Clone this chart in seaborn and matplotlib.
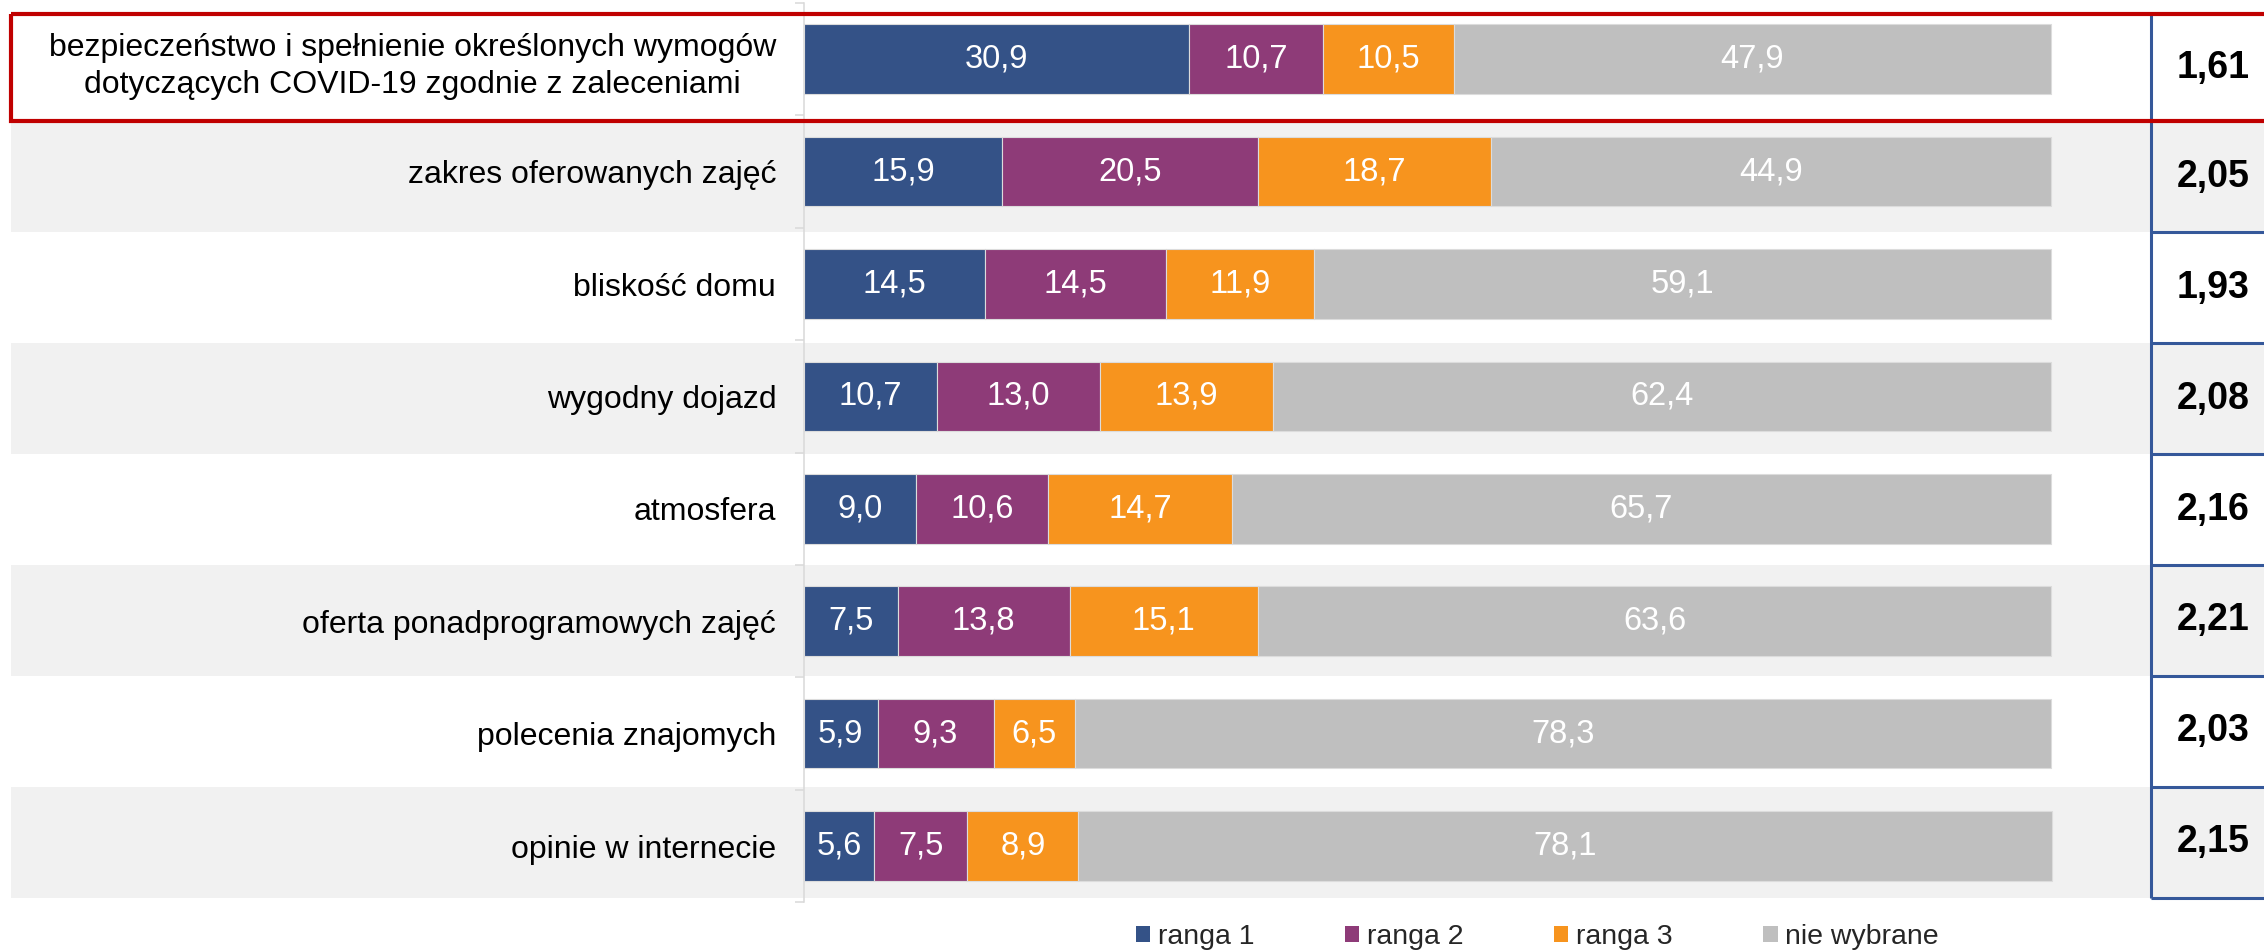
import matplotlib
matplotlib.use("Agg")
import matplotlib.pyplot as plt
import matplotlib.transforms as mtransforms
from matplotlib.patches import Rectangle, Patch
import seaborn as sns
import pandas as pd
import numpy as np

# ---------------- data ----------------
categories = [
    "bezpieczeństwo i spełnienie określonych wymogów\ndotyczących COVID-19 zgodnie z zaleceniami",
    "zakres oferowanych zajęć",
    "bliskość domu",
    "wygodny dojazd",
    "atmosfera",
    "oferta ponadprogramowych zajęć",
    "polecenia znajomych",
    "opinie w internecie",
]
ranga1 = [30.9, 15.9, 14.5, 10.7, 9.0, 7.5, 5.9, 5.6]
ranga2 = [10.7, 20.5, 14.5, 13.0, 10.6, 13.8, 9.3, 7.5]
ranga3 = [10.5, 18.7, 11.9, 13.9, 14.7, 15.1, 6.5, 8.9]
nie_wybrane = [47.9, 44.9, 59.1, 62.4, 65.7, 63.6, 78.3, 78.1]
srednia = [1.61, 2.05, 1.93, 2.08, 2.16, 2.21, 2.03, 2.15]
series_names = ["ranga 1", "ranga 2", "ranga 3", "nie wybrane"]

# ---------------- style ----------------
colors = ["#345287", "#8E3B78", "#F7941E", "#BFBFBF"]
band_color = "#F1F1F1"
table_blue = "#35589A"
red = "#C00000"
axis_grey = "#D9D9D9"

sns.set_theme(style="white")
plt.rcParams["font.family"] = ["Liberation Sans", "DejaVu Sans"]

W, H = 2264, 950
fig = plt.figure(figsize=(W / 100, H / 100), dpi=100)
ax_left_px, ax_top_px, ax_bot_px = 804, 3, 902.2
ax = fig.add_axes([ax_left_px / W, 1 - ax_bot_px / H, 1 - ax_left_px / W, (ax_bot_px - ax_top_px) / H])

px_per_pct = 1247 / 100.0
xmax = (W - ax_left_px) / px_per_pct

series = [ranga1, ranga2, ranga3, nie_wybrane]
left = np.zeros(len(categories))
for name, vals, col in zip(series_names, series, colors):
    df = pd.DataFrame({"kategoria": categories, "wartosc": vals})
    sns.barplot(data=df, x="wartosc", y="kategoria", order=categories, orient="h",
                color=col, saturation=1, width=0.62, left=left.copy(),
                edgecolor="#DCDCDC", linewidth=0.8, ax=ax, zorder=2)
    cont = ax.containers[-1]
    ax.bar_label(cont, labels=[f"{v:.1f}".replace(".", ",") for v in vals],
                 label_type="center", color="white", fontsize=23.5, zorder=3)
    left += np.array(vals)

n = len(categories)
ax.set_xlim(0, xmax)
ax.set_ylim(n - 0.5, -0.5)
ax.set_xticks([])
ax.set_xlabel("")
ax.set_ylabel("")
ax.set_facecolor("white")

# y axis: labels + boundary ticks
ax.tick_params(axis="y", which="major", length=0, pad=20, labelsize=23, labelcolor="black")
ax.set_yticks(np.arange(-0.5, n, 1), minor=True)
ax.tick_params(axis="y", which="minor", left=True, length=6.5, width=1.1,
               color=axis_grey, direction="out")
lab0 = ax.get_yticklabels()[0]
lab0.set_multialignment("center")
lab0.set_linespacing(1.3)

for s in ["top", "right", "bottom"]:
    ax.spines[s].set_visible(False)
ax.spines["left"].set_color(axis_grey)
ax.spines["left"].set_linewidth(1.1)
ax.spines["left"].set_zorder(1)

# row edges of the background bands / side table (slightly tighter than axis rows)
row_edges = [-0.40] + [0.55 + 0.9875 * k for k in range(n)]

bt = mtransforms.blended_transform_factory(fig.transFigure, ax.transData)
for i in range(1, n, 2):
    ax.add_patch(Rectangle((11 / W, row_edges[i]), 1.0, row_edges[i + 1] - row_edges[i],
                           transform=bt, facecolor=band_color, edgecolor="none",
                           zorder=0, clip_on=False))

# table of mean ranks on the right
x_table = (2151 - ax_left_px) / px_per_pct
x_val = (2213 - ax_left_px) / px_per_pct
ax.vlines(x_table, row_edges[0], row_edges[-1], color=table_blue, lw=2.2, zorder=4, clip_on=False)
ax.hlines(row_edges[2:], x_table, xmax + 1, color=table_blue, lw=2.2, zorder=4, clip_on=False)
for i, v in enumerate(srednia):
    yc = (row_edges[i] + row_edges[i + 1]) / 2
    ax.text(x_val, yc, f"{v:.2f}".replace(".", ","), ha="center", va="center",
            fontsize=27, fontweight="bold", color="black", zorder=5, clip_on=False)

# red highlight box around first row
ax.add_patch(Rectangle((11 / W, row_edges[0]), 1.0, row_edges[1] - row_edges[0], transform=bt,
                       fill=False, edgecolor=red, lw=3, zorder=6, clip_on=False))

# legend
handles = [Patch(facecolor=c, edgecolor="none") for c in colors]
fig.legend(handles, series_names, loc="center", bbox_to_anchor=(0.679, 0.0135), ncol=4,
           frameon=False, fontsize=20.5, handlelength=0.5, handleheight=0.5,
           handletextpad=0.25, columnspacing=3.2)

fig.savefig("out.png", dpi=100, facecolor="white")
